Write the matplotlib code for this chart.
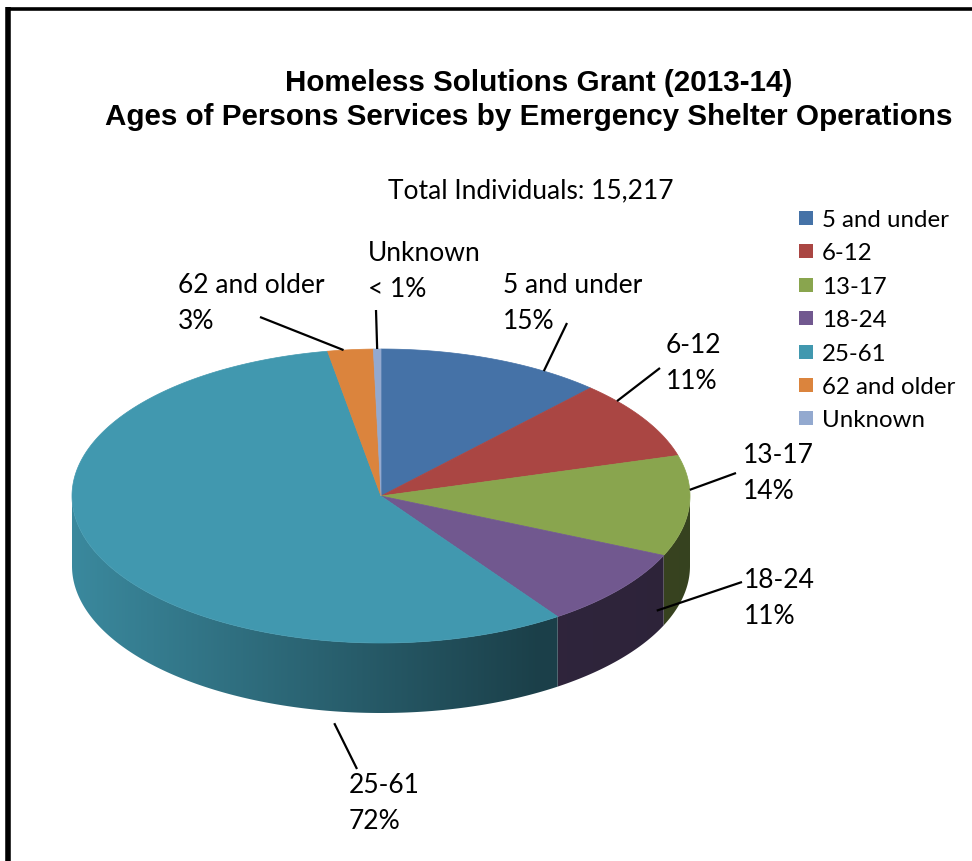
import numpy as np
import matplotlib
matplotlib.use('Agg')
import matplotlib.pyplot as plt
from matplotlib.patches import Polygon
from matplotlib.colors import to_rgb

# ------------------------------------------------------------------
# Data
# ------------------------------------------------------------------
age_groups = ['5 and under', '6-12', '13-17', '18-24', '25-61',
              '62 and older', 'Unknown']
pct_text = ['15%', '11%', '14%', '11%', '72%', '3%', '< 1%']
pct_values = [15, 11, 14, 11, 72, 3, 0.5]   # "< 1%" taken as 0.5
total_individuals = 15217

colors = ['#4572A7', '#AA4643', '#89A54E', '#71588F', '#4198AF',
          '#DB843D', '#93A9CF']

# ------------------------------------------------------------------
# Layout (pixel space, y downwards)
# ------------------------------------------------------------------
W, H = 972, 861
CX, CY = 381, 496        # centre of the top ellipse
RX, RY = 309, 147        # radii of the top ellipse
DEPTH = 70               # height of the side wall

# label text position (left x, baseline of first line)
label_pos = [(503, 293), (666, 353), (743, 463), (744, 588),
             (349, 793), (178, 293), (368, 261)]
line_gap = 36
# leader lines: preferred angle on the slice (deg, clockwise from top),
# drop down the wall (fraction of DEPTH), end point near the text
leader_hint = [31.8, 49.8, 87.6, 102.3, 188.7, 351.0, 358.7]
leader_drop = [0.0, 0.0, 0.0, 0.69, 1.17, 0.0, 0.0]
leader_end = [(567, 323), (660, 368), (736, 473), (742, 582),
              (357, 769), (260, 317), (376, 310)]

FONT_LBL = ['Lato', 'DejaVu Sans']
FONT_TTL = ['Liberation Sans', 'DejaVu Sans']


def pt(theta_deg, r=1.0):
    t = np.radians(theta_deg)
    return CX + r * RX * np.sin(t), CY - r * RY * np.cos(t)


def shade_x(x):
    # lighter on the left side of the wall, darker to the right
    s = (x - CX) / RX
    return np.interp(s, [-1.0, 0.5, 1.0], [0.90, 0.42, 0.40])


fig = plt.figure(figsize=(W / 100, H / 100), dpi=100)
ax = fig.add_axes([0, 0, 1, 1])
ax.set_xlim(0, W)
ax.set_ylim(H, 0)
ax.axis('off')

# slice boundaries, clockwise from 12 o'clock
vals = np.array(pct_values, dtype=float)
edges = np.concatenate([[0.0], np.cumsum(vals / vals.sum() * 360.0)])

# ---- side wall (only the front half is visible), horizontal gradient ----
gx = np.linspace(CX - RX, CX + RX, 600)
for i in range(len(vals)):
    a0, a1 = max(edges[i], 90.0), min(edges[i + 1], 270.0)
    if a1 <= a0:
        continue
    ts = np.linspace(a0, a1, max(2, int((a1 - a0) / 0.5) + 2))
    xs, ys = pt(ts)
    verts = list(zip(xs, ys)) + list(zip(xs[::-1], ys[::-1] + DEPTH))
    wall = Polygon(verts, closed=True, facecolor='none', edgecolor='none')
    ax.add_patch(wall)
    grad = shade_x(gx)[None, :, None] * np.array(to_rgb(colors[i]))[None, None, :]
    im = ax.imshow(grad, extent=(gx[0], gx[-1], CY + RY + DEPTH + 2, CY - 2),
                   aspect='auto', interpolation='bilinear', zorder=1)
    im.set_clip_path(wall)

# ---- top face ----
for i in range(len(vals)):
    ts = np.linspace(edges[i], edges[i + 1],
                     max(2, int((edges[i + 1] - edges[i]) / 0.5) + 2))
    xs, ys = pt(ts)
    verts = [(CX, CY)] + list(zip(xs, ys))
    ax.add_patch(Polygon(verts, closed=True, facecolor=colors[i],
                         edgecolor=colors[i], linewidth=0.5, zorder=2))

# ---- data labels with leader lines ----
for i in range(len(vals)):
    a0, a1 = edges[i], edges[i + 1]
    m = min(3.0, (a1 - a0) / 2)
    th = float(np.clip(leader_hint[i], a0 + m, a1 - m))
    sx, sy = pt(th)
    sy += leader_drop[i] * DEPTH
    ex, ey = leader_end[i]
    ax.plot([sx, ex], [sy, ey], color='black', linewidth=1.6, zorder=4,
            solid_capstyle='butt')
    lx, ly = label_pos[i]
    ax.text(lx, ly, age_groups[i], fontsize=19, family=FONT_LBL,
            ha='left', va='baseline', zorder=5)
    ax.text(lx, ly + line_gap, pct_text[i], fontsize=19, family=FONT_LBL,
            ha='left', va='baseline', zorder=5)

# ---- titles ----
ax.text(539, 91, 'Homeless Solutions Grant (2013-14)', fontsize=21.3,
        fontweight='bold', family=FONT_TTL, ha='center', va='baseline')
ax.text(529, 125, 'Ages of Persons Services by Emergency Shelter Operations',
        fontsize=21.3, fontweight='bold', family=FONT_TTL,
        ha='center', va='baseline')
ax.text(531, 198, f'Total Individuals: {total_individuals:,}', fontsize=19,
        family=FONT_LBL, ha='center', va='baseline')

# ---- legend ----
for i, name in enumerate(age_groups):
    yc = 218 + i * 33.4
    ax.add_patch(plt.Rectangle((799, yc - 7), 14, 14, facecolor=colors[i],
                               edgecolor='none'))
    ax.text(822, yc + 9, name, fontsize=17.3, family=FONT_LBL,
            ha='left', va='baseline')

# ---- outer frame (top and left) ----
ax.plot([7.5, W], [8.5, 8.5], color='black', linewidth=2.6,
        solid_capstyle='butt')
ax.plot([7.5, 7.5], [7, H], color='black', linewidth=4,
        solid_capstyle='butt')

ax.set_xlim(0, W)
ax.set_ylim(H, 0)
fig.savefig('out.png', dpi=100)
